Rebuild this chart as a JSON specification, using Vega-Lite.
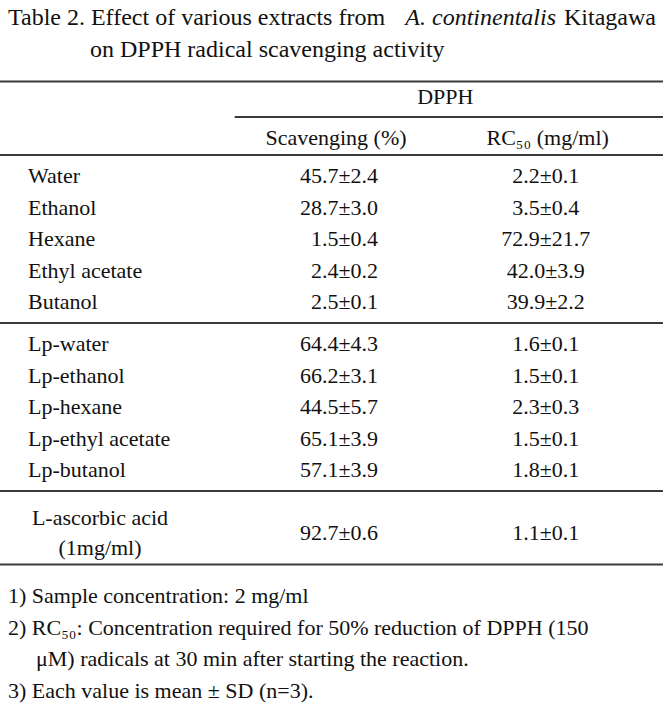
{
  "$schema": "https://vega.github.io/schema/vega-lite/v6.json",
  "width": 663,
  "height": 709,
  "padding": {"left": 0, "right": 5, "top": 0, "bottom": 0},
  "autosize": {"type": "none"},
  "background": "white",
  "config": {"view": {"stroke": null}, "text": {"font": "Liberation Serif", "color": "#111"}},
  "datasets": {
    "table": [
      {"sample": "Water", "label": "Water", "scavenging": "45.7±2.4", "rc50": "2.2±0.1"},
      {"sample": "Ethanol", "label": "Ethanol", "scavenging": "28.7±3.0", "rc50": "3.5±0.4"},
      {"sample": "Hexane", "label": "Hexane", "scavenging": "1.5±0.4", "rc50": "72.9±21.7"},
      {"sample": "Ethyl acetate", "label": "Ethyl acetate", "scavenging": "2.4±0.2", "rc50": "42.0±3.9"},
      {"sample": "Butanol", "label": "Butanol", "scavenging": "2.5±0.1", "rc50": "39.9±2.2"},
      {"sample": "Lp-water", "label": "Lp-water", "scavenging": "64.4±4.3", "rc50": "1.6±0.1"},
      {"sample": "Lp-ethanol", "label": "Lp-ethanol", "scavenging": "66.2±3.1", "rc50": "1.5±0.1"},
      {"sample": "Lp-hexane", "label": "Lp-hexane", "scavenging": "44.5±5.7", "rc50": "2.3±0.3"},
      {"sample": "Lp-ethyl acetate", "label": "Lp-ethyl acetate", "scavenging": "65.1±3.9", "rc50": "1.5±0.1"},
      {"sample": "Lp-butanol", "label": "Lp-butanol", "scavenging": "57.1±3.9", "rc50": "1.8±0.1"},
      {"sample": "L-ascorbic acid", "label": "L-ascorbic acid\n(1mg/ml)", "scavenging": "92.7±0.6", "rc50": "1.1±0.1"}
    ],
    "notes": [
      {"line": "t1", "part": "title_a", "text": "Table 2. Effect of various extracts from"},
      {"line": "t1", "part": "title_i", "text": "A. continentalis"},
      {"line": "t1", "part": "title_b", "text": "Kitagawa"},
      {"line": "t2", "part": "title_2", "text": "on DPPH radical scavenging activity"},
      {"line": "h1", "part": "dpph", "text": "DPPH"},
      {"line": "h2", "part": "h_scav", "text": "Scavenging (%)"},
      {"line": "h2", "part": "h_rc", "text": "RC₅₀ (mg/ml)"},
      {"line": "f1", "part": "foot", "text": "1) Sample concentration: 2 mg/ml"},
      {"line": "f2", "part": "foot", "text": "2) RC₅₀: Concentration required for 50% reduction of DPPH (150"},
      {"line": "f2b", "part": "foot_cont", "text": "μM) radicals at 30 min after starting the reaction."},
      {"line": "f3", "part": "foot", "text": "3) Each value is mean ± SD (n=3)."}
    ],
    "rules": [
      {"line": "r1", "span": "full"},
      {"line": "r2", "span": "dpph"},
      {"line": "r3", "span": "full"},
      {"line": "r4", "span": "full"},
      {"line": "r5", "span": "full"},
      {"line": "r6", "span": "full"}
    ]
  },
  "layer": [
    {
      "data": {"name": "rules"},
      "transform": [{"filter": "datum.span === 'full'"}],
      "mark": {"type": "rule", "strokeWidth": 2, "color": "#3a3a3a"},
      "encoding": {
        "y": {"field": "line", "type": "nominal", "axis": null,
          "scale": {"type": "point", "padding": 0, "range": [18.5, 690.5], "domain": ["t1","y1","y2","t2","y4","y5","r1","y7","h1","r2","y10","h2","y12","r3","y14","Water","y16","y17","Ethanol","y19","y20","Hexane","y22","y23","Ethyl acetate","y25","y26","Butanol","y28","r4","y30","Lp-water","y32","y33","Lp-ethanol","y35","y36","Lp-hexane","y38","y39","Lp-ethyl acetate","y41","y42","Lp-butanol","y44","r5","y46","y47","y48","L-ascorbic acid","y50","y51","r6","y53","y54","f1","y56","y57","f2","y59","y60","f2b","y62","y63","f3"]}}
      }
    },
    {
      "data": {"name": "rules"},
      "transform": [{"filter": "datum.span === 'dpph'"}],
      "mark": {"type": "rule", "strokeWidth": 2, "color": "#3a3a3a", "yOffset": 4},
      "encoding": {
        "y": {"field": "line", "type": "nominal", "axis": null},
        "x": {"datum": "c2", "type": "nominal", "axis": null,
          "scale": {"type": "point", "padding": 0, "range": [28, 648], "domain": ["label","c1","c2","scav","dpph","rc50","c6"]}},
        "x2": {"value": "width"}
      }
    },
    {
      "data": {"name": "notes"},
      "transform": [{"filter": "datum.part === 'title_a'"}],
      "mark": {"type": "text", "align": "left", "baseline": "middle", "fontSize": 24, "dx": -20, "dy": -1},
      "encoding": {
        "y": {"field": "line", "type": "nominal", "axis": null},
        "x": {"datum": "label", "type": "nominal", "axis": null},
        "text": {"field": "text"}
      }
    },
    {
      "data": {"name": "notes"},
      "transform": [{"filter": "datum.part === 'title_i'"}],
      "mark": {"type": "text", "align": "left", "baseline": "middle", "fontSize": 24, "fontStyle": "italic", "dx": -36, "dy": -1},
      "encoding": {
        "y": {"field": "line", "type": "nominal", "axis": null},
        "x": {"datum": "dpph", "type": "nominal", "axis": null},
        "text": {"field": "text"}
      }
    },
    {
      "data": {"name": "notes"},
      "transform": [{"filter": "datum.part === 'title_b'"}],
      "mark": {"type": "text", "align": "right", "baseline": "middle", "fontSize": 24, "dx": 8, "dy": -1},
      "encoding": {
        "y": {"field": "line", "type": "nominal", "axis": null},
        "x": {"datum": "c6", "type": "nominal", "axis": null},
        "text": {"field": "text"}
      }
    },
    {
      "data": {"name": "notes"},
      "transform": [{"filter": "datum.part === 'title_2'"}],
      "mark": {"type": "text", "align": "left", "baseline": "middle", "fontSize": 24, "dx": 62},
      "encoding": {
        "y": {"field": "line", "type": "nominal", "axis": null},
        "x": {"datum": "label", "type": "nominal", "axis": null},
        "text": {"field": "text"}
      }
    },
    {
      "data": {"name": "notes"},
      "transform": [{"filter": "datum.part === 'dpph'"}],
      "mark": {"type": "text", "align": "center", "baseline": "middle", "fontSize": 22, "dx": 4, "dy": -6},
      "encoding": {
        "y": {"field": "line", "type": "nominal", "axis": null},
        "x": {"datum": "dpph", "type": "nominal", "axis": null},
        "text": {"field": "text"}
      }
    },
    {
      "data": {"name": "notes"},
      "transform": [{"filter": "datum.part === 'h_scav'"}],
      "mark": {"type": "text", "align": "center", "baseline": "middle", "fontSize": 22, "dx": -2, "dy": 4},
      "encoding": {
        "y": {"field": "line", "type": "nominal", "axis": null},
        "x": {"datum": "scav", "type": "nominal", "axis": null},
        "text": {"field": "text"}
      }
    },
    {
      "data": {"name": "notes"},
      "transform": [{"filter": "datum.part === 'h_rc'"}],
      "mark": {"type": "text", "align": "center", "baseline": "middle", "fontSize": 22, "dx": 3, "dy": 4},
      "encoding": {
        "y": {"field": "line", "type": "nominal", "axis": null},
        "x": {"datum": "rc50", "type": "nominal", "axis": null},
        "text": {"field": "text"}
      }
    },
    {
      "data": {"name": "table"},
      "transform": [{"filter": "datum.sample !== 'L-ascorbic acid'"}],
      "mark": {"type": "text", "align": "left", "baseline": "middle", "fontSize": 22},
      "encoding": {
        "y": {"field": "sample", "type": "nominal", "axis": null},
        "x": {"datum": "label", "type": "nominal", "axis": null},
        "text": {"field": "label"}
      }
    },
    {
      "data": {"name": "table"},
      "transform": [{"filter": "datum.sample === 'L-ascorbic acid'"}],
      "mark": {"type": "text", "align": "center", "baseline": "middle", "fontSize": 22, "lineBreak": "\n", "lineHeight": 30, "dx": 72, "dy": -15},
      "encoding": {
        "y": {"field": "sample", "type": "nominal", "axis": null},
        "x": {"datum": "label", "type": "nominal", "axis": null},
        "text": {"field": "label"}
      }
    },
    {
      "data": {"name": "table"},
      "mark": {"type": "text", "align": "right", "baseline": "middle", "fontSize": 22, "dx": 40},
      "encoding": {
        "y": {"field": "sample", "type": "nominal", "axis": null},
        "x": {"datum": "scav", "type": "nominal", "axis": null},
        "text": {"field": "scavenging"}
      }
    },
    {
      "data": {"name": "table"},
      "mark": {"type": "text", "align": "center", "baseline": "middle", "fontSize": 22, "dx": 1},
      "encoding": {
        "y": {"field": "sample", "type": "nominal", "axis": null},
        "x": {"datum": "rc50", "type": "nominal", "axis": null},
        "text": {"field": "rc50"}
      }
    },
    {
      "data": {"name": "notes"},
      "transform": [{"filter": "datum.part === 'foot'"}],
      "mark": {"type": "text", "align": "left", "baseline": "middle", "fontSize": 22, "dx": -20},
      "encoding": {
        "y": {"field": "line", "type": "nominal", "axis": null},
        "x": {"datum": "label", "type": "nominal", "axis": null},
        "text": {"field": "text"}
      }
    },
    {
      "data": {"name": "notes"},
      "transform": [{"filter": "datum.part === 'foot_cont'"}],
      "mark": {"type": "text", "align": "left", "baseline": "middle", "fontSize": 22, "dx": 8},
      "encoding": {
        "y": {"field": "line", "type": "nominal", "axis": null},
        "x": {"datum": "label", "type": "nominal", "axis": null},
        "text": {"field": "text"}
      }
    }
  ]
}
